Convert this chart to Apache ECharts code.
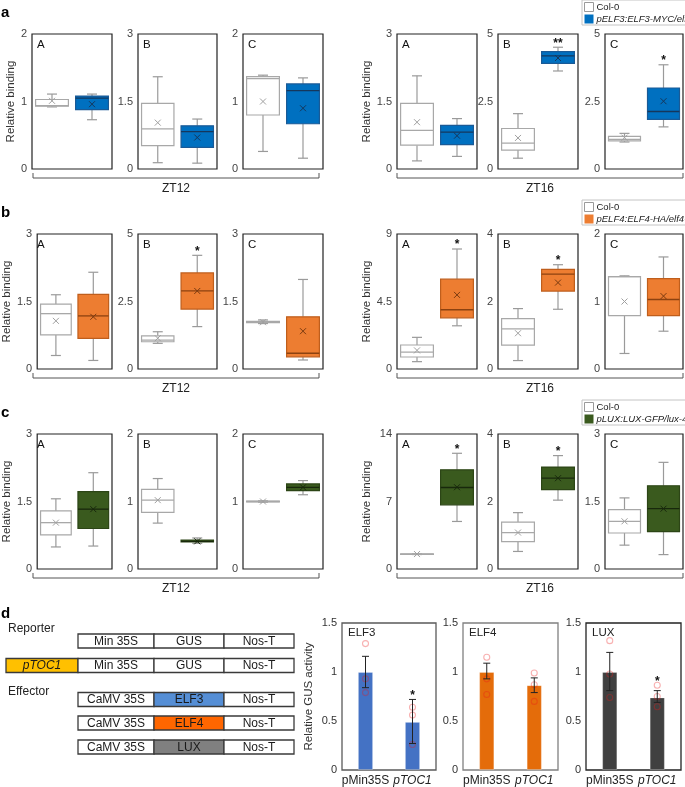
<!DOCTYPE html>
<html><head><meta charset="utf-8">
<script src="https://cdn.jsdelivr.net/npm/echarts@6/dist/echarts.min.js"></script>
<style>html,body{margin:0;padding:0;background:#fff}#c{width:685px;height:787px}</style>
</head><body><div id="c"></div>
<script>
// ---------- DATA: box plots, each entry [min, q1, median, q3, max, mean] ----------
// Panel a (ELF3)
const aZT12Max = [2, 3, 2];
const aZT12Col0 = [[0.92,0.93,0.94,1.03,1.11,1.01],[0.14,0.52,0.89,1.46,2.05,1.03],[0.26,0.80,1.34,1.37,1.39,1.00]];
const aZT12Line = [[0.73,0.88,1.05,1.08,1.11,0.96],[0.13,0.48,0.83,0.96,1.11,0.70],[0.16,0.67,1.16,1.26,1.35,0.90]];
const aZT12Stars = ['', '', ''];
const aZT16Max = [3, 5, 5];
const aZT16Col0 = [[0.18,0.53,0.86,1.46,2.07,1.04],[0.40,0.70,0.96,1.50,2.05,1.15],[1.00,1.04,1.10,1.21,1.32,1.16]];
const aZT16Line = [[0.28,0.54,0.82,0.97,1.12,0.74],[3.63,3.91,4.19,4.35,4.51,4.11],[1.56,1.84,2.13,3.00,3.86,2.51]];
const aZT16Stars = ['', '**', '*'];
// Panel b (ELF4)
const bZT12Max = [3, 5, 3];
const bZT12Col0 = [[0.30,0.76,1.23,1.44,1.65,1.07],[0.95,1.01,1.07,1.23,1.38,1.14],[1.01,1.03,1.04,1.06,1.09,1.04]];
const bZT12Line = [[0.19,0.68,1.18,1.66,2.15,1.16],[1.57,2.22,2.89,3.56,4.21,2.89],[0.20,0.27,0.35,1.16,1.99,0.84]];
const bZT12Stars = ['', '*', ''];
const bZT16Max = [9, 4, 2];
const bZT16Col0 = [[0.49,0.80,1.13,1.60,2.11,1.24],[0.25,0.71,1.19,1.49,1.79,1.06],[0.23,0.79,1.37,1.37,1.38,1.00]];
const bZT16Line = [[2.88,3.41,3.95,5.99,8.00,4.94],[1.77,2.31,2.81,2.95,3.09,2.56],[0.56,0.79,1.03,1.34,1.66,1.08]];
const bZT16Stars = ['*', '*', ''];
// Panel c (LUX)
const cZT12Max = [3, 2, 2];
const cZT12Col0 = [[0.49,0.76,1.03,1.29,1.56,1.03],[0.68,0.84,1.02,1.18,1.34,1.02],[0.99,0.995,1.00,1.005,1.01,1.00]];
const cZT12Line = [[0.51,0.90,1.33,1.72,2.14,1.33],[0.38,0.40,0.41,0.43,0.46,0.41],[1.10,1.16,1.21,1.26,1.31,1.21]];
const cZT12Stars = ['', '', ''];
const cZT16Max = [14, 4, 3];
const cZT16Col0 = [[1.50,1.53,1.55,1.57,1.60,1.55],[0.52,0.81,1.08,1.39,1.67,1.08],[0.53,0.80,1.06,1.32,1.58,1.06]];
const cZT16Line = [[4.93,6.66,8.45,10.28,12.00,8.48],[2.04,2.35,2.69,3.02,3.36,2.69],[0.32,0.83,1.34,1.85,2.37,1.34]];
const cZT16Stars = ['*', '*', ''];

const subplotLetters = ['A', 'B', 'C'];
const timeLabels = ['ZT12', 'ZT16'];
const lineNames = ['pELF3:ELF3-MYC/elf3-1', 'pELF4:ELF4-HA/elf4-2', 'pLUX:LUX-GFP/lux-4'];

// Panel d: GUS activity
const gusCats = ['pMin35S', 'pTOC1'];
const gusELF3Vals = [1.00, 0.49];
const gusELF3Err = [[0.84, 1.16], [0.27, 0.72]];
const gusELF3Pts = [[1.29, 0.93, 0.79], [0.64, 0.56, 0.26]];
const gusELF3Stars = ['', '*'];
const gusELF4Vals = [1.00, 0.865];
const gusELF4Err = [[0.93, 1.09], [0.79, 0.94]];
const gusELF4Pts = [[1.15, 0.93, 0.77], [0.99, 0.87, 0.70]];
const gusELF4Stars = ['', ''];
const gusLUXVals = [1.00, 0.74];
const gusLUXErr = [[0.81, 1.20], [0.69, 0.81]];
const gusLUXPts = [[1.32, 0.98, 0.74], [0.865, 0.75, 0.645]];
const gusLUXStars = ['', '*'];

const reporterParts = ['Min 35S', 'GUS', 'Nos-T'];
const effectorParts = [['CaMV 35S', 'ELF3', 'Nos-T'], ['CaMV 35S', 'ELF4', 'Nos-T'], ['CaMV 35S', 'LUX', 'Nos-T']];

// ---------- STYLE / LAYOUT ----------
const F = '"Liberation Sans", Arial, Helvetica, sans-serif';
const COL0 = {fill:'#ffffff', stroke:'#a8a8a8', median:'#a8a8a8', mean:'#a0a0a0'};
const LINESTY = [
  {fill:'#0070c0', stroke:'#1a5a96', median:'#15375c', mean:'#15375c'},
  {fill:'#ed7d31', stroke:'#bf5e1c', median:'#8c4210', mean:'#7a3a10'},
  {fill:'#3a5a1e', stroke:'#2c4516', median:'#18280c', mean:'#18280c'}
];
const WHISK = '#9a9a9a';
const ROW_TOPS = [34, 234, 434];
const GRID_H = 135;
const SETS = [
  {lefts:[32,138,243], widths:[80,79,80], nameGap:15, bracket:[33,319]},
  {lefts:[397,498,605], widths:[80,80,78], nameGap:24, bracket:[397,683]}
];
const rows = [
  {sets:[{max:aZT12Max,col:aZT12Col0,line:aZT12Line,stars:aZT12Stars},{max:aZT16Max,col:aZT16Col0,line:aZT16Line,stars:aZT16Stars}]},
  {sets:[{max:bZT12Max,col:bZT12Col0,line:bZT12Line,stars:bZT12Stars},{max:bZT16Max,col:bZT16Col0,line:bZT16Line,stars:bZT16Stars}]},
  {sets:[{max:cZT12Max,col:cZT12Col0,line:cZT12Line,stars:cZT12Stars},{max:cZT16Max,col:cZT16Col0,line:cZT16Line,stars:cZT16Stars}]}
];

const grids = [], xAxes = [], yAxes = [], series = [], graphic = [], legends = [];

function text(x, y, s, o) {
  o = o || {};
  graphic.push({type:'text', x:x, y:y, silent:true, style:{text:s, fill:o.fill||'#222',
    font:(o.style||'normal')+' '+(o.weight||'normal')+' '+(o.size||12)+'px '+F,
    align:o.align||'left', verticalAlign:'middle'}});
}

function boxSeries(name, gi, datum, st, star) {
  return {
    type:'custom', name:name, xAxisIndex:gi, yAxisIndex:gi, data:[datum], silent:true,
    itemStyle:{color:st.fill}, clip:false,
    renderItem:function (p, api) {
      const x = api.value(0);
      const c = v => api.coord([x, v]);
      const band = api.size([1, 0])[0];
      const hw = band * 0.41;
      const pMin = c(api.value(1)), pQ1 = c(api.value(2)), pMed = c(api.value(3)),
            pQ3 = c(api.value(4)), pMax = c(api.value(5)), pMean = c(api.value(6));
      const cx = pMin[0];
      const ln = (x1,y1,x2,y2,col,w) => ({type:'line', shape:{x1:x1,y1:y1,x2:x2,y2:y2}, style:{stroke:col, lineWidth:w||1}});
      const ch = [
        ln(cx, pQ3[1], cx, pMax[1], WHISK, 1.2),
        ln(cx, pQ1[1], cx, pMin[1], WHISK, 1.2),
        ln(cx-5, pMax[1], cx+5, pMax[1], WHISK, 1.2),
        ln(cx-5, pMin[1], cx+5, pMin[1], WHISK, 1.2),
        {type:'rect', shape:{x:cx-hw, y:pQ3[1], width:2*hw, height:Math.max(pQ1[1]-pQ3[1], 0.5)},
          style:{fill:st.fill, stroke:st.stroke, lineWidth:1.2}},
        ln(cx-hw, pMed[1], cx+hw, pMed[1], st.median, 1.3),
        ln(pMean[0]-3, pMean[1]-3, pMean[0]+3, pMean[1]+3, st.mean, 1),
        ln(pMean[0]-3, pMean[1]+3, pMean[0]+3, pMean[1]-3, st.mean, 1)
      ];
      if (star) ch.push({type:'text', x:cx, y:pMax[1]-4, style:{text:star, fill:'#111',
        font:'bold 12px '+F, align:'center', verticalAlign:'middle'}});
      return {type:'group', children:ch};
    }
  };
}

rows.forEach((row, r) => {
  const top = ROW_TOPS[r];
  const st = LINESTY[r];
  text(1, top - 21, ['a','b','c'][r], {weight:'bold', size:15, fill:'#000'});
  legends.push({
    left:582, top:top-34, orient:'vertical', icon:'rect', itemWidth:9, itemHeight:9, itemGap:2,
    padding:[2,4,1,2], borderColor:'#c4c4c4', borderWidth:1, selectedMode:false,
    textStyle:{fontSize:9.5, fontFamily:F, color:'#222', padding:[0,0,0,-2]},
    data:[{name:'Col-0', itemStyle:{color:'#fff', borderColor:'#9a9a9a', borderWidth:1}},
          {name:lineNames[r], textStyle:{fontStyle:'italic'}, itemStyle:{color:st.fill, borderWidth:0}}]
  });
  row.sets.forEach((set, s) => {
    const L = SETS[s];
    for (let i = 0; i < 3; i++) {
      const gi = grids.length;
      grids.push({left:L.lefts[i], top:top, width:L.widths[i], height:GRID_H, show:true,
        borderColor:'#222', borderWidth:1.2, backgroundColor:'transparent'});
      xAxes.push({gridIndex:gi, type:'category', data:['Col-0', lineNames[r]], show:false});
      yAxes.push({gridIndex:gi, type:'value', min:0, max:set.max[i], interval:set.max[i]/2,
        axisLine:{show:false}, axisTick:{show:false}, splitLine:{show:false},
        axisLabel:{fontSize:11, color:'#444', margin:5, fontFamily:F},
        name: i === 0 ? 'Relative binding' : '', nameLocation:'middle', nameGap:L.nameGap,
        nameTextStyle:{fontSize:11.5, color:'#333', fontFamily:F}});
      series.push(boxSeries('Col-0', gi, [0].concat(set.col[i]), COL0, ''));
      series.push(boxSeries(lineNames[r], gi, [1].concat(set.line[i]), st, set.stars[i]));
      text(L.lefts[i] + 5, top + 11, subplotLetters[i], {size:11.5, fill:'#111'});
    }
    const [b0, b1] = L.bracket;
    const by = top + 144;
    graphic.push({type:'polyline', silent:true, shape:{points:[[b0,by-5],[b0,by],[b1,by],[b1,by-5]]},
      style:{stroke:'#555', lineWidth:1, fill:'none'}});
    text((b0 + b1) / 2, by + 11, timeLabels[s], {size:12, align:'center', fill:'#222'});
  });
});

// ---------- Panel d: schematic ----------
text(1, 614, 'd', {weight:'bold', size:15, fill:'#000'});
text(8, 629, 'Reporter', {size:12});
text(8, 692, 'Effector', {size:12});
const PX = [78, 154, 224, 294];
const rowTopsD = [634, 658.5, 692.5, 716, 740];
const RH = 14;
const partFill = {'ELF3':'#558ed5', 'ELF4':'#ff6600', 'LUX':'#808080'};
function construct(y, parts) {
  parts.forEach((p, k) => {
    graphic.push({type:'rect', silent:true, shape:{x:PX[k], y:y, width:PX[k+1]-PX[k], height:RH},
      style:{fill:partFill[p] || '#fff', stroke:'#3a3a3a', lineWidth:1.3}});
    text((PX[k] + PX[k+1]) / 2, y + RH/2 + 0.5, p, {size:12, align:'center', fill:'#1a1a1a'});
  });
}
construct(rowTopsD[0], reporterParts);
graphic.push({type:'rect', silent:true, shape:{x:6, y:rowTopsD[1], width:72, height:RH},
  style:{fill:'#ffc000', stroke:'#3a3a3a', lineWidth:1.3}});
text(42, rowTopsD[1] + RH/2 + 0.5, 'pTOC1', {size:12, align:'center', style:'italic', fill:'#1a1a1a'});
construct(rowTopsD[1], reporterParts);
effectorParts.forEach((parts, k) => construct(rowTopsD[2 + k], parts));

// ---------- Panel d: GUS bar charts ----------
const gusSets = [
  {title:'ELF3', vals:gusELF3Vals, err:gusELF3Err, pts:gusELF3Pts, stars:gusELF3Stars, color:'#4472c4', frame:'#5a5a5a', left:342, width:94},
  {title:'ELF4', vals:gusELF4Vals, err:gusELF4Err, pts:gusELF4Pts, stars:gusELF4Stars, color:'#e46c0a', frame:'#808080', left:463, width:95},
  {title:'LUX', vals:gusLUXVals, err:gusLUXErr, pts:gusLUXPts, stars:gusLUXStars, color:'#404040', frame:'#222222', left:586, width:95}
];
gusSets.forEach((g, k) => {
  const gi = grids.length;
  grids.push({left:g.left, top:623, width:g.width, height:148, show:true, borderColor:g.frame, borderWidth:1.3, backgroundColor:'transparent'});
  xAxes.push({gridIndex:gi, type:'category', data:[gusCats[0], {value:gusCats[1], textStyle:{fontStyle:'italic'}}],
    axisLine:{show:false}, axisTick:{show:false},
    axisLabel:{fontSize:12, color:'#222', margin:5, fontFamily:F, interval:0, hideOverlap:false}});
  yAxes.push({gridIndex:gi, type:'value', min:0, max:1.5, interval:0.5,
    axisLine:{show:false}, axisTick:{show:false}, splitLine:{show:false},
    axisLabel:{fontSize:11, color:'#333', margin:5, fontFamily:F},
    name: k === 0 ? 'Relative GUS activity' : '', nameLocation:'middle', nameGap:27,
    nameTextStyle:{fontSize:11.5, color:'#333', fontFamily:F}});
  series.push({type:'bar', name:'GUS '+g.title, xAxisIndex:gi, yAxisIndex:gi, data:g.vals, barWidth:15,
    itemStyle:{color:g.color, borderColor:'rgba(255,255,255,0.35)', borderWidth:0.8}, silent:true, z:2});
  const pts = [];
  g.pts.forEach((arr, i) => arr.forEach(v => pts.push([i, v])));
  series.push({type:'scatter', name:'pts '+g.title, xAxisIndex:gi, yAxisIndex:gi, data:pts, symbol:'circle', symbolSize:6,
    itemStyle:{color:'rgba(0,0,0,0)', borderColor:'rgba(235,25,25,0.42)', borderWidth:1.1}, silent:true, z:3});
  const errData = g.err.map((e, i) => [i, e[0], e[1], Math.max(e[1], Math.max.apply(null, g.pts[i]))]);
  const stars = g.stars;
  series.push({type:'custom', name:'err '+g.title, xAxisIndex:gi, yAxisIndex:gi, data:errData, silent:true, z:4,
    renderItem:function (p, api) {
      const i = api.value(0);
      const lo = api.coord([i, api.value(1)]), hi = api.coord([i, api.value(2)]), an = api.coord([i, api.value(3)]);
      const ch = [
        {type:'line', shape:{x1:lo[0], y1:lo[1], x2:hi[0], y2:hi[1]}, style:{stroke:'#222', lineWidth:1}},
        {type:'line', shape:{x1:lo[0]-3.5, y1:lo[1], x2:lo[0]+3.5, y2:lo[1]}, style:{stroke:'#222', lineWidth:1}},
        {type:'line', shape:{x1:hi[0]-3.5, y1:hi[1], x2:hi[0]+3.5, y2:hi[1]}, style:{stroke:'#222', lineWidth:1}}
      ];
      if (stars[p.dataIndex]) ch.push({type:'text', x:an[0], y:an[1]-4,
        style:{text:stars[p.dataIndex], fill:'#111', font:'bold 12px '+F, align:'center', verticalAlign:'middle'}});
      return {type:'group', children:ch};
    }});
  text(g.left + 6, 633, g.title, {size:11.5, fill:'#222'});
});

const chart = echarts.init(document.getElementById('c'), null, {renderer:'canvas'});
chart.setOption({
  backgroundColor:'#fff', animation:false,
  grid:grids, xAxis:xAxes, yAxis:yAxes, legend:legends, series:series, graphic:graphic
});
</script></body></html>
